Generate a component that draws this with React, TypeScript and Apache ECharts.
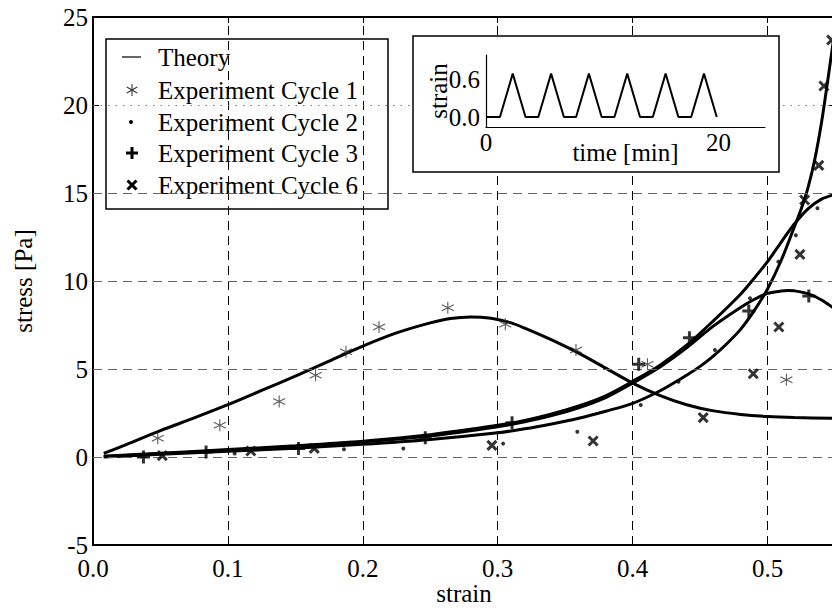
import React, { useEffect, useRef } from "react";
import * as echarts from "echarts";

// ---------- data ----------
const theoryAX = [0.008, 0.025, 0.05, 0.075, 0.1, 0.125, 0.15, 0.175, 0.2, 0.225, 0.25, 0.265, 0.28, 0.295, 0.31, 0.32, 0.34, 0.36, 0.38, 0.4, 0.42, 0.44, 0.46, 0.48, 0.5, 0.52, 0.55];
const theoryAY = [0.2, 0.72, 1.5, 2.22, 2.97, 3.78, 4.6, 5.45, 6.3, 7.05, 7.62, 7.87, 7.96, 7.88, 7.62, 7.32, 6.65, 5.9, 5.05, 4.2, 3.5, 2.97, 2.62, 2.42, 2.3, 2.24, 2.2];

const theoryBX = [0.008, 0.05, 0.1, 0.15, 0.2, 0.25, 0.3, 0.32, 0.34, 0.36, 0.38, 0.4, 0.42, 0.44, 0.46, 0.48, 0.49, 0.5, 0.51, 0.515, 0.52, 0.53, 0.54, 0.55];
const theoryBY = [0.03, 0.18, 0.38, 0.6, 0.85, 1.2, 1.72, 2.0, 2.35, 2.8, 3.38, 4.2, 5.1, 6.2, 7.45, 8.5, 8.95, 9.3, 9.43, 9.46, 9.44, 9.28, 8.92, 8.4];

const theoryCX = [0.008, 0.05, 0.1, 0.15, 0.2, 0.25, 0.3, 0.32, 0.34, 0.36, 0.38, 0.4, 0.42, 0.44, 0.46, 0.48, 0.49, 0.5, 0.51, 0.52, 0.53, 0.54, 0.55];
const theoryCY = [0.04, 0.21, 0.42, 0.64, 0.9, 1.27, 1.8, 2.08, 2.45, 2.9, 3.48, 4.3, 5.2, 6.35, 7.75, 9.25, 10.15, 11.1, 12.2, 13.25, 14.1, 14.65, 14.92];

const theoryDX = [0.008, 0.05, 0.1, 0.15, 0.2, 0.25, 0.3, 0.32, 0.34, 0.36, 0.38, 0.4, 0.42, 0.44, 0.45, 0.46, 0.47, 0.48, 0.49, 0.5, 0.51, 0.52, 0.525, 0.53, 0.535, 0.54, 0.545, 0.55];
const theoryDY = [0.0, 0.15, 0.32, 0.5, 0.72, 1.0, 1.38, 1.6, 1.88, 2.2, 2.6, 3.05, 3.75, 4.65, 5.15, 5.75, 6.45, 7.25, 8.3, 9.55, 11.15, 13.1, 14.1, 15.3, 16.9, 19.0, 21.6, 24.3];

const cycle1X = [0.048, 0.094, 0.138, 0.165, 0.1875, 0.212, 0.263, 0.3056, 0.358, 0.411, 0.514];
const cycle1Y = [1.06, 1.8, 3.16, 4.64, 5.98, 7.39, 8.48, 7.54, 6.08, 5.27, 4.39];

const cycle2X = [0.105, 0.186, 0.23, 0.304, 0.359, 0.406, 0.434, 0.461, 0.487, 0.508, 0.521, 0.537];
const cycle2Y = [0.2, 0.44, 0.48, 0.76, 1.44, 2.95, 4.28, 6.08, 9.02, 11.1, 12.6, 14.13];

const cycle3X = [0.0374, 0.0838, 0.1523, 0.2463, 0.3106, 0.4045, 0.4421, 0.4861, 0.5306];
const cycle3Y = [0.0, 0.28, 0.49, 1.1, 1.95, 5.27, 6.78, 8.3, 9.15];

const cycle6X = [0.0514, 0.117, 0.164, 0.2957, 0.3707, 0.4523, 0.4894, 0.5084, 0.524, 0.5275, 0.538, 0.5418, 0.5475];
const cycle6Y = [0.08, 0.34, 0.49, 0.66, 0.91, 2.24, 4.73, 7.39, 11.51, 14.6, 16.57, 21.08, 23.69];

const xGridTicks = [0.1, 0.2, 0.3, 0.4, 0.5];
const yDashedTicks = [0, 5, 10, 15];
const yDottedTicks = [20];

const insetTime = [0, 1.2, 2.3, 3.4, 4.5, 5.6, 6.7, 7.75, 8.85, 9.95, 11.05, 12.15, 13.25, 14.35, 15.45, 16.55, 17.65, 18.75, 19.85];
const insetStrain = [0, 0, 0.7, 0, 0, 0.7, 0, 0, 0.7, 0, 0, 0.7, 0, 0, 0.7, 0, 0, 0.7, 0];
const insetXLabels = [0, 20];
const insetYLabels = [0, 0.6];

const legendLabels = ["Theory", "Experiment Cycle 1", "Experiment Cycle 2", "Experiment Cycle 3", "Experiment Cycle 6"];

const FONT = '"Liberation Serif", "Times New Roman", serif';
const FS = 25;

const zip = (xs: number[], ys: number[]) => xs.map((x, i) => [x, ys[i]]);

const ASTERISK = "path://M6,0L6,12M0.8,3L11.2,9M0.8,9L11.2,3";
const PLUS = "path://M6,0L6,12M0,6L12,6";
const CROSS = "path://M0,0L10,10M0,10L10,0";

export default function App() {
  const ref = useRef<HTMLDivElement>(null);
  useEffect(() => {
    if (!ref.current) return;
    const chart = echarts.init(ref.current, undefined, { renderer: "svg" });

    const theoryLine = (data: number[][]) => ({
      type: "line",
      data,
      xAxisIndex: 0,
      yAxisIndex: 0,
      showSymbol: false,
      symbol: "none",
      smooth: 0.3,
      lineStyle: { color: "#000", width: 3 },
      z: 4,
      silent: true,
    });

    const scatter = (data: number[][], symbol: string, size: number, style: any, z = 5) => ({
      type: "scatter",
      data,
      xAxisIndex: 0,
      yAxisIndex: 0,
      symbol,
      symbolSize: size,
      itemStyle: style,
      z,
      silent: true,
    });

    // legend graphic
    const lx = 132;
    const rows = [57, 90, 122, 153, 185];
    const legendChildren: any[] = [
      { type: "rect", shape: { x: 106, y: 39, width: 282, height: 170 }, style: { fill: "#fff", stroke: "#000", lineWidth: 1.5 } },
      { type: "line", shape: { x1: 122, y1: rows[0], x2: 141, y2: rows[0] }, style: { stroke: "#333", lineWidth: 1.5 } },
      { type: "line", shape: { x1: lx, y1: rows[1] - 6, x2: lx, y2: rows[1] + 6 }, style: { stroke: "#333", lineWidth: 1.1 } },
      { type: "line", shape: { x1: lx - 5.2, y1: rows[1] - 3, x2: lx + 5.2, y2: rows[1] + 3 }, style: { stroke: "#333", lineWidth: 1.1 } },
      { type: "line", shape: { x1: lx - 5.2, y1: rows[1] + 3, x2: lx + 5.2, y2: rows[1] - 3 }, style: { stroke: "#333", lineWidth: 1.1 } },
      { type: "circle", shape: { cx: lx - 1, cy: rows[2], r: 2 }, style: { fill: "#000" } },
      { type: "line", shape: { x1: lx, y1: rows[3] - 6, x2: lx, y2: rows[3] + 6 }, style: { stroke: "#000", lineWidth: 3 } },
      { type: "line", shape: { x1: lx - 6, y1: rows[3], x2: lx + 6, y2: rows[3] }, style: { stroke: "#000", lineWidth: 3 } },
      { type: "line", shape: { x1: lx - 4.5, y1: rows[4] - 4.5, x2: lx + 4.5, y2: rows[4] + 4.5 }, style: { stroke: "#000", lineWidth: 3 } },
      { type: "line", shape: { x1: lx - 4.5, y1: rows[4] + 4.5, x2: lx + 4.5, y2: rows[4] - 4.5 }, style: { stroke: "#000", lineWidth: 3 } },
    ];
    legendLabels.forEach((t, i) => {
      legendChildren.push({
        type: "text",
        style: { text: t, x: 158, y: rows[i], font: `${FS}px ${FONT}`, fill: "#000", verticalAlign: "middle", align: "left" },
      });
    });

    const axisFont = { fontFamily: FONT, fontSize: FS, color: "#000" };

    const option: any = {
      animation: false,
      backgroundColor: "#fff",
      grid: [
        { left: 93, top: 17, width: 742, height: 528, containLabel: false, outerBoundsMode: "none" },
        { left: 486, top: 55, width: 279, height: 72, containLabel: false, outerBoundsMode: "none" },
      ],
      xAxis: [
        {
          type: "value", gridIndex: 0, min: 0, max: 0.55, interval: 0.1, position: "bottom",
          name: "strain", nameLocation: "middle", nameGap: 36, nameMoveOverlap: false, nameTextStyle: axisFont,
          axisLine: { show: true, onZero: false, lineStyle: { color: "#000", width: 2 } },
          axisTick: { show: true, inside: true, length: 6, lineStyle: { color: "#000", width: 1 } },
          axisLabel: {
            ...axisFont, margin: 11,
            formatter: (v: number) => (Math.abs(v * 10 - Math.round(v * 10)) < 1e-6 ? v.toFixed(1) : ""),
          },
          splitLine: { show: false },
        },
        {
          type: "value", gridIndex: 0, min: 0, max: 0.55, interval: 0.1, position: "top",
          axisLine: { show: true, onZero: false, lineStyle: { color: "#000", width: 2 } },
          axisTick: { show: true, inside: true, length: 6, lineStyle: { color: "#000", width: 1 } },
          axisLabel: { show: false },
          splitLine: { show: false },
        },
        {
          type: "value", gridIndex: 1, min: 0, max: 24, position: "bottom", z: 60,
          name: "time [min]", nameLocation: "middle", nameGap: 13, nameMoveOverlap: false, nameTextStyle: axisFont,
          axisLine: { show: true, onZero: false, lineStyle: { color: "#000", width: 1.2 } },
          axisTick: { show: false },
          axisLabel: { ...axisFont, margin: 3, customValues: insetXLabels, formatter: (v: number) => String(v) },
          splitLine: { show: false },
        },
      ],
      yAxis: [
        {
          type: "value", gridIndex: 0, min: -5, max: 25, interval: 5, position: "left",
          name: "stress [Pa]", nameLocation: "middle", nameGap: 57, nameRotate: 90, nameMoveOverlap: false, nameTextStyle: axisFont,
          axisLine: { show: true, onZero: false, lineStyle: { color: "#000", width: 2 } },
          axisTick: { show: true, inside: true, length: 6, lineStyle: { color: "#000", width: 1 } },
          axisLabel: { ...axisFont, margin: 5 },
          splitLine: { show: false },
        },
        {
          type: "value", gridIndex: 0, min: -5, max: 25, interval: 5, position: "right",
          axisLine: { show: true, onZero: false, lineStyle: { color: "#000", width: 2 } },
          axisTick: { show: true, inside: true, length: 6, lineStyle: { color: "#000", width: 1 } },
          axisLabel: { show: false },
          splitLine: { show: false },
        },
        {
          type: "value", gridIndex: 1, min: -0.16, max: 1.0, position: "left", z: 60,
          name: "strain", nameLocation: "middle", nameGap: 35, nameRotate: 90, nameMoveOverlap: false, nameTextStyle: axisFont,
          axisLine: { show: true, onZero: false, lineStyle: { color: "#000", width: 1.2 } },
          axisTick: { show: false },
          axisLabel: { ...axisFont, margin: 6, customValues: insetYLabels, formatter: (v: number) => v.toFixed(1) },
          splitLine: { show: false },
        },
      ],
      graphic: [
        { type: "group", z: 50, children: legendChildren },
        {
          type: "rect", z: 50,
          shape: { x: 413, y: 36, width: 366, height: 136 },
          style: { fill: "#fff", stroke: "#000", lineWidth: 1.5 },
        },
      ],
      series: [
        {
          type: "line", data: [], xAxisIndex: 0, yAxisIndex: 0, z: 1, silent: true,
          markLine: {
            silent: true, symbol: ["none", "none"], label: { show: false }, animation: false,
            data: [
              ...xGridTicks.map((v) => ({ xAxis: v, lineStyle: { color: "#000", width: 1, type: [9, 6] } })),
              ...yDashedTicks.map((v) => ({ yAxis: v, lineStyle: { color: "#666", width: 1.2, type: [9, 6] } })),
              ...yDottedTicks.map((v) => ({ yAxis: v, lineStyle: { color: "#777", width: 1, type: [1.5, 6] } })),
            ],
          },
        },
        theoryLine(zip(theoryAX, theoryAY)),
        theoryLine(zip(theoryBX, theoryBY)),
        theoryLine(zip(theoryCX, theoryCY)),
        theoryLine(zip(theoryDX, theoryDY)),
        scatter(zip(cycle1X, cycle1Y), ASTERISK, 12, { color: "none", borderColor: "#333", borderWidth: 1.1 }),
        scatter(zip(cycle2X, cycle2Y), "circle", 4, { color: "#000", borderWidth: 0 }),
        scatter(zip(cycle3X, cycle3Y), PLUS, 13, { color: "none", borderColor: "#000", borderWidth: 3 }),
        scatter(zip(cycle6X, cycle6Y), CROSS, 9, { color: "none", borderColor: "#000", borderWidth: 3 }),
        {
          type: "line", data: zip(insetTime, insetStrain), xAxisIndex: 2, yAxisIndex: 2,
          showSymbol: false, symbol: "none", lineStyle: { color: "#000", width: 2 }, z: 60, silent: true,
        },
      ],
    };
    chart.setOption(option);
    return () => chart.dispose();
  }, []);
  return <div ref={ref} style={{ width: 840, height: 610, margin: -8 }} />;
}
